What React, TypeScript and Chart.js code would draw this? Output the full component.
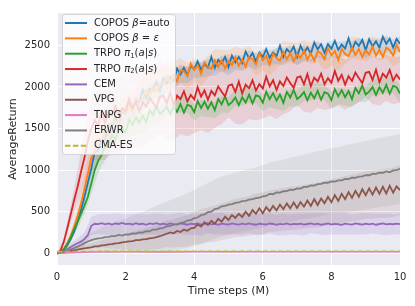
import React, { useEffect, useRef } from "react";
import { Chart, registerables } from "chart.js";

Chart.register(...registerables);

// x sampling (time steps, millions)
const STEPS = Array.from({ length: 101 }, (_, i) => i / 10);
const BAND_STEPS = Array.from({ length: 51 }, (_, i) => i / 5);
const COARSE_STEPS = [0, 1, 2, 3, 4, 5, 6, 7, 8, 9, 10];

const X_TICKS = [0, 2, 4, 6, 8, 10];
const Y_TICKS = [0, 500, 1000, 1500, 2000, 2500];

const COPOS_AUTO = [
  0, 12, 45, 95, 170, 260, 380, 520, 680, 850,
  1020, 1220, 1230, 1370, 1360, 1550, 1510, 1620, 1560, 1700,
  1680, 1810, 1740, 1830, 1820, 1970, 1860, 1980, 1960, 2060,
  1950, 2110, 2040, 2120, 2070, 2220, 2150, 2230, 2140, 2255,
  2210, 2308, 2206, 2274, 2232, 2360, 2228, 2326, 2284, 2362,
  2240, 2377, 2294, 2361, 2288, 2425, 2342, 2409, 2306, 2413,
  2360, 2455, 2350, 2415, 2370, 2495, 2360, 2455, 2410, 2485,
  2360, 2495, 2410, 2475, 2400, 2535, 2450, 2515, 2410, 2515,
  2460, 2553, 2446, 2509, 2462, 2585, 2448, 2541, 2494, 2567,
  2440, 2573, 2486, 2549, 2472, 2605, 2518, 2581, 2474, 2577,
  2520,
];
const COPOS_EPS = [
  0, 15, 55, 120, 210, 320, 450, 600, 780, 960,
  1150, 1220, 1380, 1340, 1460, 1420, 1570, 1590, 1560, 1730,
  1680, 1770, 1700, 1860, 1840, 1840, 1970, 1910, 2010, 1940,
  2040, 2020, 2130, 2040, 2130, 2070, 2200, 2190, 2135, 2280,
  2205, 2261, 2158, 2294, 2241, 2217, 2324, 2240, 2317, 2223,
  2310, 2265, 2360, 2255, 2330, 2245, 2360, 2335, 2270, 2405,
  2320, 2373, 2267, 2400, 2344, 2317, 2421, 2334, 2408, 2311,
  2395, 2347, 2440, 2332, 2405, 2317, 2430, 2402, 2335, 2467,
  2380, 2432, 2324, 2456, 2398, 2370, 2472, 2384, 2456, 2358,
  2440, 2392, 2484, 2376, 2448, 2360, 2472, 2444, 2376, 2508,
  2420,
];
const TRPO_PI1 = [
  0, 10, 50, 110, 190, 290, 380, 470, 570, 680,
  840, 1000, 1110, 1180, 1280, 1290, 1430, 1360, 1490, 1500,
  1450, 1605, 1540, 1635, 1565, 1655, 1575, 1720, 1665, 1770,
  1675, 1710, 1765, 1670, 1765, 1700, 1795, 1690, 1785, 1770,
  1695, 1831, 1747, 1822, 1738, 1814, 1720, 1855, 1791, 1887,
  1782, 1818, 1874, 1780, 1876, 1812, 1907, 1803, 1899, 1884,
  1810, 1942, 1853, 1925, 1836, 1908, 1809, 1941, 1872, 1964,
  1855, 1887, 1938, 1840, 1931, 1863, 1954, 1846, 1937, 1919,
  1840, 1974, 1888, 1962, 1876, 1950, 1854, 1988, 1922, 2016,
  1910, 1944, 1998, 1902, 1996, 1930, 2024, 1918, 2012, 1996,
  1920,
];
const TRPO_PI2 = [
  0, 30, 140, 300, 470, 640, 800, 980, 1150, 1350,
  1500, 1600, 1540, 1690, 1570, 1690, 1660, 1770, 1655, 1745,
  1710, 1857, 1744, 1821, 1708, 1815, 1762, 1869, 1806, 1753,
  1880, 1897, 1804, 1931, 1788, 1895, 1852, 1949, 1826, 1903,
  1850, 1996, 1883, 1959, 1846, 1952, 1899, 2005, 1942, 1888,
  2015, 2031, 1938, 2064, 1921, 2027, 1984, 2080, 1957, 2033,
  1980, 2123, 2007, 2080, 1964, 2067, 2011, 2114, 2048, 1991,
  2115, 2128, 2032, 2155, 2009, 2112, 2066, 2159, 2033, 2106,
  2050, 2192, 2074, 2146, 2028, 2130, 2072, 2174, 2106, 2048,
  2170, 2182, 2084, 2206, 2058, 2160, 2112, 2204, 2076, 2148,
  2090,
];
const CEM = [
  0, 8, 25, 50, 75, 100, 120, 140, 170, 220,
  330, 355, 350, 362, 348, 358, 345, 360, 352, 364,
  350, 356, 346, 361, 349, 357, 343, 359, 351, 362,
  347, 355, 344, 358, 350, 346, 360, 352, 343, 356,
  349, 358, 345, 353, 361, 347, 355, 342, 357, 350,
  346, 359, 351, 344, 356, 348, 360, 349, 343, 355,
  350, 346, 358, 352, 341, 354, 348, 359, 345, 353,
  349, 357, 344, 352, 360, 347, 355, 343, 351, 358,
  346, 354, 349, 342, 356, 350, 345, 359, 352, 344,
  355, 348, 357, 343, 352, 360, 347, 354, 349, 356,
  351,
];
const VPG = [
  0, 5, 12, 20, 28, 36, 44, 52, 60, 66,
  72, 82, 84, 96, 98, 107, 110, 120, 122, 132,
  136, 144, 146, 157, 158, 167, 170, 180, 184, 194,
  205, 220, 235, 250, 240, 268, 255, 285, 270, 300,
  305, 345, 320, 372, 340, 390, 355, 415, 380, 440,
  400, 460, 425, 475, 435, 500, 450, 520, 475, 540,
  480, 555, 505, 570, 515, 585, 530, 600, 540, 610,
  545, 615, 560, 635, 570, 650, 580, 660, 600, 680,
  615, 700, 630, 715, 650, 735, 665, 750, 680, 770,
  700, 780, 705, 790, 715, 800, 720, 810, 730, 805,
  760,
];
const ERWR = [
  0, 10, 22, 35, 48, 62, 80, 100, 122, 142,
  158, 170, 180, 183, 195, 196, 207, 206, 220, 212,
  228, 225, 240, 236, 252, 248, 266, 263, 285, 284,
  300, 306, 323, 330, 345, 348, 365, 370, 394, 398,
  422, 430, 458, 468, 494, 500, 532, 540, 565, 570,
  585, 590, 606, 612, 626, 630, 646, 650, 662, 668,
  684, 690, 715, 710, 732, 730, 746, 748, 765, 762,
  780, 778, 798, 798, 816, 814, 832, 834, 850, 848,
  864, 862, 876, 876, 894, 892, 908, 908, 922, 924,
  938, 938, 954, 954, 970, 968, 984, 975, 996, 1000,
  1015,
];
const TNPG = [0, 16, 18, 17, 19, 18, 18, 19, 18, 19, 19];
const CMA_ES = [20, 22, 23, 22, 24, 23, 24, 24, 25, 24, 25];

// band half-widths, sampled every 0.2M
const COPOS_AUTO_SPREAD = [
  0, 15, 40, 70, 90, 110, 110, 115, 120, 110, 115, 110, 105, 110, 100, 105, 100, 95, 100, 95,
  100, 95, 100, 90, 95, 100, 95, 90, 95, 100, 95, 90, 95, 100, 90, 95, 100, 95, 90, 95,
  100, 95, 90, 95, 100, 95, 90, 95, 100, 95, 90,
];
const COPOS_EPS_SPREAD = [
  0, 20, 50, 100, 150, 200, 230, 250, 250, 240, 230, 220, 210, 200, 190, 180, 170, 160, 150, 150,
  140, 140, 135, 130, 130, 130, 125, 130, 125, 130, 125, 130, 125, 130, 125, 130, 125, 130, 125, 130,
  125, 130, 125, 130, 125, 130, 125, 130, 125, 130, 125,
];
const TRPO_PI1_SPREAD = [
  0, 20, 40, 70, 100, 130, 150, 160, 160, 150, 140, 130, 120, 110, 110, 100, 100, 95, 100, 95,
  100, 95, 100, 95, 100, 95, 100, 95, 100, 95, 100, 95, 100, 95, 100, 95, 100, 95, 100, 95,
  100, 95, 100, 95, 100, 95, 100, 95, 100, 95, 100,
];
const TRPO_PI2_SPREAD = [
  0, 40, 100, 200, 300, 380, 420, 450, 460, 470, 470, 460, 460, 450, 450, 440, 440, 430, 420, 420,
  410, 400, 400, 390, 390, 380, 380, 370, 370, 360, 360, 350, 350, 340, 340, 330, 330, 320, 320, 310,
  310, 300, 300, 300, 290, 290, 290, 280, 280, 280, 280,
];
const CEM_SPREAD = [
  0, 20, 40, 60, 80, 110, 120, 125, 130, 125, 120, 125, 130, 120, 125, 130, 120, 125, 130, 120,
  125, 130, 120, 125, 130, 120, 125, 130, 120, 125, 130, 120, 125, 130, 120, 125, 130, 120, 125, 130,
  120, 125, 130, 120, 125, 130, 120, 125, 130, 120, 125,
];
const VPG_SPREAD = [
  0, 10, 20, 30, 40, 50, 60, 70, 80, 90, 100, 110, 120, 130, 140, 150, 160, 170, 180, 190,
  200, 205, 210, 215, 220, 225, 230, 235, 240, 245, 250, 250, 255, 255, 260, 260, 265, 265, 270, 270,
  275, 275, 280, 280, 285, 285, 290, 290, 295, 295, 300,
];
const ERWR_SPREAD = [
  0, 15, 30, 50, 70, 90, 110, 130, 150, 170, 190, 210, 230, 250, 270, 290, 300, 310, 320, 330,
  340, 345, 350, 355, 360, 360, 365, 365, 370, 370, 375, 375, 380, 380, 385, 385, 390, 390, 395, 395,
  400, 400, 405, 405, 410, 410, 415, 415, 420, 420, 420,
];

type Part = [string, "n" | "i" | "sub"];
interface Series {
  parts: Part[];
  color: string;
  rgb: string;
  alpha: number;
  width: number;
  values: number[];
  spread?: number[];
  steps?: number[];
  dash?: number[];
}

const SERIES: Series[] = [
  { parts: [["COPOS ", "n"], ["β", "i"], ["=auto", "n"]], color: "#1f77b4", rgb: "31,119,180", alpha: 0.15, width: 1.8, values: COPOS_AUTO, spread: COPOS_AUTO_SPREAD },
  { parts: [["COPOS ", "n"], ["β", "i"], [" = ", "n"], ["ε", "i"]], color: "#ff7f0e", rgb: "255,127,14", alpha: 0.15, width: 1.8, values: COPOS_EPS, spread: COPOS_EPS_SPREAD },
  { parts: [["TRPO ", "n"], ["π", "i"], ["1", "sub"], ["(", "n"], ["a", "i"], ["|", "n"], ["s", "i"], [")", "n"]], color: "#2ca02c", rgb: "44,160,44", alpha: 0.15, width: 1.8, values: TRPO_PI1, spread: TRPO_PI1_SPREAD },
  { parts: [["TRPO ", "n"], ["π", "i"], ["2", "sub"], ["(", "n"], ["a", "i"], ["|", "n"], ["s", "i"], [")", "n"]], color: "#d62728", rgb: "214,39,40", alpha: 0.14, width: 1.8, values: TRPO_PI2, spread: TRPO_PI2_SPREAD },
  { parts: [["CEM", "n"]], color: "#9467bd", rgb: "148,103,189", alpha: 0.17, width: 1.8, values: CEM, spread: CEM_SPREAD },
  { parts: [["VPG", "n"]], color: "#8c564b", rgb: "140,86,75", alpha: 0.12, width: 1.8, values: VPG, spread: VPG_SPREAD },
  { parts: [["TNPG", "n"]], color: "#e377c2", rgb: "227,119,194", alpha: 0.2, width: 1.6, values: TNPG, steps: COARSE_STEPS },
  { parts: [["ERWR", "n"]], color: "#7f7f7f", rgb: "127,127,127", alpha: 0.12, width: 1.8, values: ERWR, spread: ERWR_SPREAD },
  { parts: [["CMA-ES", "n"]], color: "#bcbd22", rgb: "188,189,34", alpha: 0.2, width: 1.6, values: CMA_ES, steps: COARSE_STEPS, dash: [5.5, 2.4] },
];

const FONT = "'DejaVu Sans', 'Liberation Sans', sans-serif";
const TEXT = "#262626";

const backgroundPlugin = {
  id: "sbBackground",
  beforeDraw(chart: any) {
    const { ctx, chartArea } = chart;
    ctx.save();
    ctx.fillStyle = "#EAEAF2";
    ctx.fillRect(chartArea.left, chartArea.top, chartArea.right - chartArea.left, chartArea.bottom - chartArea.top);
    ctx.restore();
  },
};

const legendPlugin = {
  id: "sbLegend",
  afterDraw(chart: any) {
    const ctx = chart.ctx;
    ctx.save();
    ctx.beginPath();
    ctx.roundRect(62.5, 14.5, 113, 140, 3);
    ctx.fillStyle = "rgba(255,255,255,0.8)";
    ctx.fill();
    ctx.strokeStyle = "rgba(204,204,204,0.8)";
    ctx.lineWidth = 1;
    ctx.stroke();
    SERIES.forEach((s, k) => {
      const y = 23 + k * 15.35;
      ctx.beginPath();
      ctx.setLineDash(s.dash || []);
      ctx.strokeStyle = s.color;
      ctx.lineWidth = 2;
      ctx.moveTo(65, y);
      ctx.lineTo(87, y);
      ctx.stroke();
      ctx.setLineDash([]);
      let x = 94;
      ctx.textBaseline = "middle";
      ctx.textAlign = "left";
      ctx.fillStyle = TEXT;
      for (const [t, st] of s.parts) {
        if (st === "sub") {
          ctx.font = `7px ${FONT}`;
          ctx.fillText(t, x, y + 2.5);
        } else {
          ctx.font = `${st === "i" ? "italic " : ""}10px ${FONT}`;
          ctx.fillText(t, x, y);
        }
        x += ctx.measureText(t).width;
      }
    });
    ctx.restore();
  },
};

export default function App() {
  const ref = useRef<HTMLCanvasElement>(null);
  useEffect(() => {
    const canvas = ref.current;
    if (!canvas) return;
    const datasets: any[] = [];
    SERIES.forEach((s) => {
      if (!s.spread) return;
      const spread = s.spread;
      datasets.push({
        data: BAND_STEPS.map((x, i) => ({ x, y: s.values[i * 2] - spread[i] })),
        borderWidth: 0,
        borderColor: "rgba(0,0,0,0)",
        pointRadius: 0,
        fill: false,
        order: 100,
      });
      datasets.push({
        data: BAND_STEPS.map((x, i) => ({ x, y: s.values[i * 2] + spread[i] })),
        borderWidth: 0,
        borderColor: "rgba(0,0,0,0)",
        backgroundColor: `rgba(${s.rgb},${s.alpha})`,
        pointRadius: 0,
        fill: "-1",
        order: 100,
      });
    });
    SERIES.forEach((s, k) => {
      const xs = s.steps || STEPS;
      datasets.push({
        data: xs.map((x, i) => ({ x, y: s.values[i] })),
        borderColor: s.color,
        borderWidth: s.width,
        borderDash: s.dash || [],
        pointRadius: 0,
        fill: false,
        order: 50 - k,
      });
    });

    const chart = new Chart(canvas, {
      type: "line",
      data: { datasets },
      plugins: [backgroundPlugin, legendPlugin],
      options: {
        animation: false,
        responsive: false,
        devicePixelRatio: 1,
        layout: { padding: { top: 8, right: 15, left: 0, bottom: 0 } },
        plugins: { legend: { display: false }, tooltip: { enabled: false } },
        elements: { line: { tension: 0 } },
        scales: {
          x: {
            type: "linear",
            min: 0,
            max: 10,
            afterBuildTicks: (scale: any) => {
              scale.ticks = X_TICKS.map((v) => ({ value: v }));
            },
            afterFit: (scale: any) => {
              scale.height = 41;
            },
            ticks: { color: TEXT, font: { family: FONT, size: 10 }, padding: 6, callback: (v: any) => String(v), maxRotation: 0 },
            grid: { color: "#ffffff", lineWidth: 1, drawTicks: false },
            border: { display: false },
            title: { display: true, text: "Time steps (M)", color: TEXT, font: { family: FONT, size: 11 }, padding: { top: 0, bottom: 8 } },
          },
          y: {
            type: "linear",
            min: -141,
            max: 2889,
            afterBuildTicks: (scale: any) => {
              scale.ticks = Y_TICKS.map((v) => ({ value: v }));
            },
            afterFit: (scale: any) => {
              scale.width = 57;
            },
            ticks: { color: TEXT, font: { family: FONT, size: 10 }, padding: 7, callback: (v: any) => String(v) },
            grid: { color: "#ffffff", lineWidth: 1, drawTicks: false },
            border: { display: false },
            title: { display: true, text: "AverageReturn", color: TEXT, font: { family: FONT, size: 11 }, padding: { top: 7, bottom: 0 } },
          },
        },
      } as any,
    });
    return () => chart.destroy();
  }, []);

  return (
    <div style={{ position: "fixed", left: 0, top: 0, width: 415, height: 306, background: "#ffffff" }}>
      <canvas ref={ref} width={415} height={306} style={{ display: "block" }} />
    </div>
  );
}
